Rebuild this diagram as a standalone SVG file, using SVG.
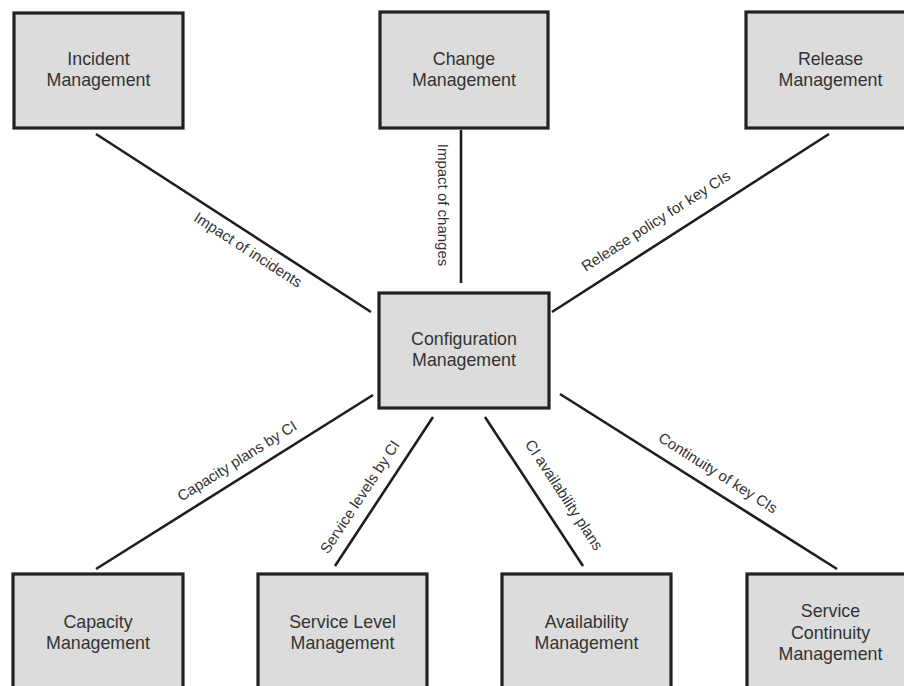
<svg xmlns="http://www.w3.org/2000/svg" width="904" height="686" viewBox="0 0 904 686">
  <style>
    .box rect { fill: #dcdcdc; stroke: #222; stroke-width: 3.2; }
    .box text { font-family: "Liberation Sans", Arial, sans-serif; font-size: 17.8px; fill: #333; text-anchor: middle; }
    #connectors line { stroke: #1e1e1e; stroke-width: 2.6; stroke-linecap: butt; }
    #connectors text { font-family: "Liberation Sans", Arial, sans-serif; font-size: 15px; fill: #333; text-anchor: middle; }
  </style>
  <rect width="904" height="686" fill="#fff"/>

  <!-- Relationship lines around the central node -->
  <g id="connectors">
    <line x1="96" y1="134" x2="371" y2="312"/>
    <line x1="461" y1="130" x2="461" y2="283"/>
    <line x1="829" y1="134" x2="552" y2="312"/>
    <line x1="373" y1="395" x2="96" y2="569"/>
    <line x1="433" y1="417" x2="335" y2="566"/>
    <line x1="485" y1="417" x2="583" y2="566"/>
    <line x1="560" y1="394" x2="837" y2="569"/>

    <text transform="translate(248,250) rotate(32.9)" y="5">Impact of incidents</text>
    <text transform="translate(443,205) rotate(90)" y="5">Impact of changes</text>
    <text transform="translate(656,221) rotate(-32.7)" y="5">Release policy for key CIs</text>
    <text transform="translate(237,461) rotate(-32.1)" y="5">Capacity plans by CI</text>
    <text transform="translate(360,497) rotate(-56.7)" y="5">Service levels by CI</text>
    <text transform="translate(564,495) rotate(56.7)" y="5">CI availability plans</text>
    <text transform="translate(718,473) rotate(32.3)" y="5">Continuity of key CIs</text>
  </g>

  <!-- Top row -->
  <g id="incident" class="box">
    <rect x="14" y="13" width="169" height="115"/>
    <text x="98.5" y="65">Incident</text>
    <text x="98.5" y="86">Management</text>
  </g>
  <g id="change" class="box">
    <rect x="380" y="12" width="168" height="116"/>
    <text x="464" y="65">Change</text>
    <text x="464" y="86">Management</text>
  </g>
  <g id="release" class="box">
    <rect x="746" y="12" width="169" height="116"/>
    <text x="830.5" y="65">Release</text>
    <text x="830.5" y="86">Management</text>
  </g>

  <!-- Centre -->
  <g id="configuration" class="box">
    <rect x="379" y="293" width="170" height="115"/>
    <text x="464" y="345">Configuration</text>
    <text x="464" y="366">Management</text>
  </g>

  <!-- Bottom row -->
  <g id="capacity" class="box">
    <rect x="13" y="574" width="170" height="130"/>
    <text x="98" y="628">Capacity</text>
    <text x="98" y="649">Management</text>
  </g>
  <g id="service-level" class="box">
    <rect x="258" y="574" width="169" height="130"/>
    <text x="342.5" y="628">Service Level</text>
    <text x="342.5" y="649">Management</text>
  </g>
  <g id="availability" class="box">
    <rect x="502" y="574" width="169" height="130"/>
    <text x="586.5" y="628">Availability</text>
    <text x="586.5" y="649">Management</text>
  </g>
  <g id="service-continuity" class="box">
    <rect x="747" y="574" width="169" height="130"/>
    <text x="830.5" y="617">Service</text>
    <text x="830.5" y="639">Continuity</text>
    <text x="830.5" y="660">Management</text>
  </g>
</svg>
